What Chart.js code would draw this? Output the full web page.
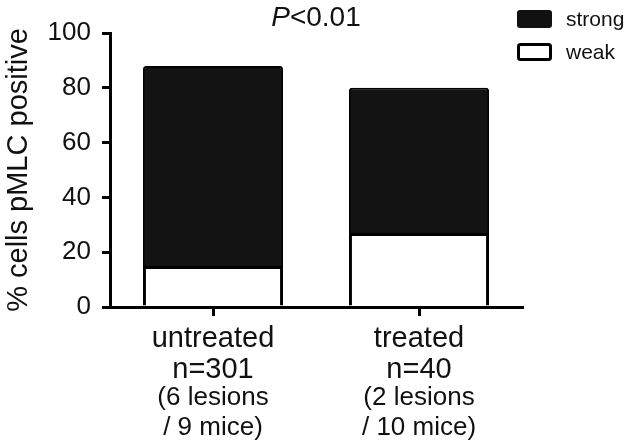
<!DOCTYPE html>
<html>
<head>
<meta charset="utf-8">
<script src="https://cdn.jsdelivr.net/npm/chart.js@4.4.1/dist/chart.umd.min.js"></script>
<style>
  html, body { margin: 0; padding: 0; background: #fff; }
  #wrap { width: 630px; height: 445px; position: relative; }
</style>
</head>
<body>
<div id="wrap"><canvas id="myChart"></canvas></div>
<script>
// groups shown on the x axis
var groups = ['untreated', 'treated'];
var groupN = ['n=301', 'n=40'];
var groupNote1 = ['(6 lesions', '(2 lesions'];
var groupNote2 = ['/ 9 mice)', '/ 10 mice)'];

// % of cells, weak at the bottom, strong stacked on top
var weakValues = [15, 27];
var strongValues = [73, 53];

var yTicks = [0, 20, 40, 60, 80, 100];

var FONT = '"Liberation Sans", Arial, sans-serif';

// x labels with two font sizes, drawn under the axis
var groupLabels = {
    id: 'groupLabels',
    afterDraw: function (chart) {
        var ctx = chart.ctx;
        var xs = chart.scales.x;
        var base = chart.chartArea.bottom;
        ctx.save();
        ctx.fillStyle = '#111';
        ctx.textAlign = 'center';
        ctx.textBaseline = 'alphabetic';
        for (var i = 0; i < groups.length; i++) {
            var x = xs.getPixelForValue(i);
            ctx.font = '29px ' + FONT;
            ctx.fillText(groups[i], x, base + 40);
            ctx.fillText(groupN[i], x, base + 71);
            ctx.font = '26px ' + FONT;
            ctx.fillText(groupNote1[i], x, base + 98);
            ctx.fillText(groupNote2[i], x, base + 128);
        }
        ctx.restore();
    }
};

// P value on top and the legend boxes at the right
var extras = {
    id: 'extras',
    afterDraw: function (chart) {
        var ctx = chart.ctx;
        var area = chart.chartArea;
        ctx.save();
        ctx.fillStyle = '#111';
        ctx.textBaseline = 'alphabetic';
        ctx.textAlign = 'left';
        ctx.font = 'italic 28px ' + FONT;
        var pw = ctx.measureText('P').width;
        ctx.font = '28px ' + FONT;
        var rw = ctx.measureText('<0.01').width;
        var sx = (area.left + area.right) / 2 - (pw + rw) / 2;
        ctx.font = 'italic 28px ' + FONT;
        ctx.fillText('P', sx, 26);
        ctx.font = '28px ' + FONT;
        ctx.fillText('<0.01', sx + pw, 26);

        var lx = chart.width - 113;
        ctx.fillStyle = '#111';
        ctx.beginPath();
        ctx.roundRect(lx, 10, 35, 18, 3);
        ctx.fill();
        ctx.fillStyle = '#fff';
        ctx.strokeStyle = '#000';
        ctx.lineWidth = 3;
        ctx.beginPath();
        ctx.roundRect(lx + 1.5, 44.5, 32, 15, 2);
        ctx.fill();
        ctx.stroke();

        ctx.fillStyle = '#111';
        ctx.font = '21px ' + FONT;
        ctx.fillText('strong', lx + 49, 26);
        ctx.fillText('weak', lx + 49, 59);
        ctx.restore();
    }
};

var config = {
    type: 'bar',
    data: {
        labels: groups,
        datasets: [{
            label: 'weak',
            data: weakValues,
            backgroundColor: '#ffffff',
            borderColor: '#000000',
            borderWidth: 3,
            borderSkipped: 'bottom'
        }, {
            label: 'strong',
            data: strongValues,
            backgroundColor: '#131313',
            borderColor: '#000000',
            borderWidth: 2,
            borderRadius: { topLeft: 3, topRight: 3 },
            borderSkipped: 'bottom'
        }]
    },
    options: {
        responsive: true,
        maintainAspectRatio: false,
        animation: false,
        layout: {
            padding: { left: 0, right: 108, top: 33, bottom: 0 }
        },
        datasets: {
            bar: { barPercentage: 0.68, categoryPercentage: 1.0 }
        },
        plugins: {
            legend: { display: false },
            tooltip: { enabled: false }
        },
        scales: {
            x: {
                stacked: true,
                afterFit: function (scale) { scale.height = 138; },
                border: { display: true, color: '#000', width: 3 },
                grid: {
                    offset: false,
                    drawOnChartArea: false,
                    drawTicks: true,
                    tickLength: 9,
                    lineWidth: 3,
                    color: '#000'
                },
                ticks: { display: false }
            },
            y: {
                stacked: true,
                min: 0,
                max: 100,
                afterFit: function (scale) { scale.width = 110; },
                afterBuildTicks: function (scale) {
                    scale.ticks = yTicks.map(function (v) { return { value: v }; });
                },
                border: { display: true, color: '#000', width: 3 },
                grid: {
                    drawOnChartArea: false,
                    drawTicks: true,
                    tickLength: 8,
                    lineWidth: 3,
                    color: '#000'
                },
                ticks: {
                    color: '#111',
                    padding: 11,
                    font: { family: FONT, size: 26 }
                },
                title: {
                    display: true,
                    text: '% cells pMLC positive',
                    color: '#111',
                    padding: { top: 2, bottom: 0 },
                    font: { family: FONT, size: 29 }
                }
            }
        }
    },
    plugins: [groupLabels, extras]
};

var ctx = document.getElementById('myChart').getContext('2d');
var currentChart = new Chart(ctx, config);
</script>
</body>
</html>
